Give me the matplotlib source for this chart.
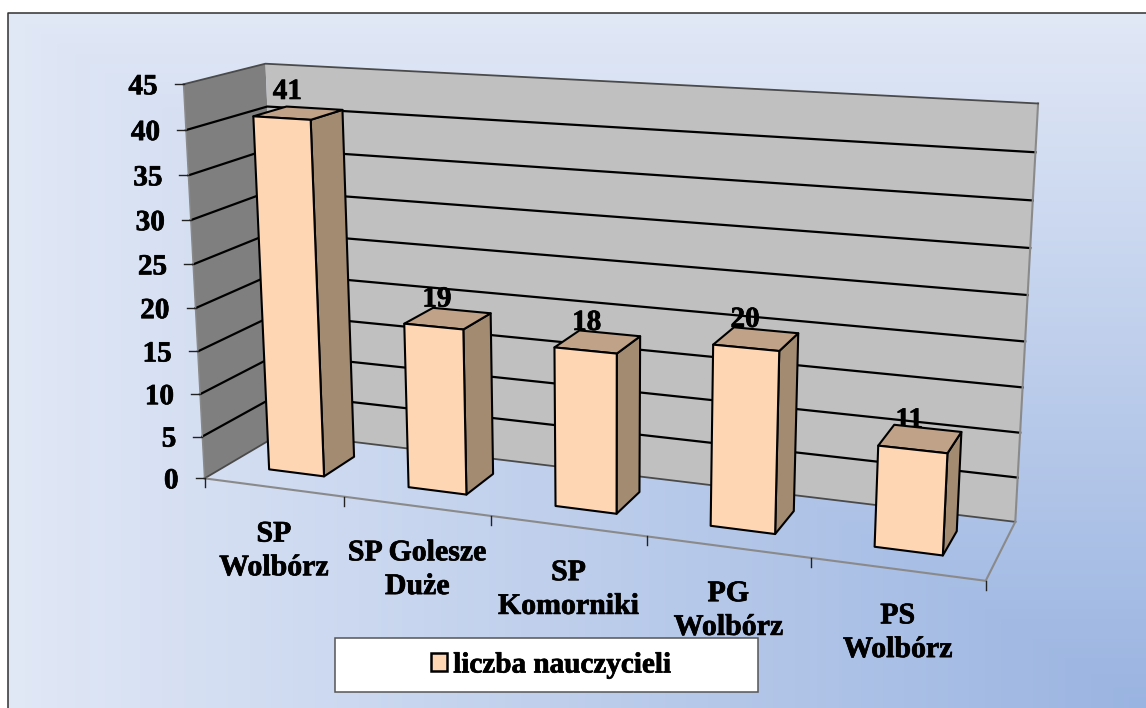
import numpy as np
import matplotlib
matplotlib.use("Agg")
import matplotlib.pyplot as plt
import matplotlib.patheffects as pe
from matplotlib.patches import Polygon, Rectangle, Patch

categories = ["SP\nWolbórz", "SP Golesze\nDuże", "SP\nKomorniki", "PG\nWolbórz", "PS\nWolbórz"]
teachers = [41, 19, 18, 20, 11]
y_ticks = [0, 5, 10, 15, 20, 25, 30, 35, 40, 45]
series_name = "liczba nauczycieli"
y_max = 45

# ---- layout: calibration of the 3D view (unit box -> pixels) ----
ANCHORS = [
    ((0, 0, 0), (205, 478)), ((1, 0, 0), (985.7, 581)),
    ((1, 0, 1), (1015, 521.7)), ((0, 0, 1), (281, 434)),
    ((0, 1, 0), (183, 85)), ((0, 1, 1), (266, 63)),
    ((1, 1, 1), (1038, 103.5)),
    ((.2, 0, 0), (344, 496)), ((.4, 0, 0), (491, 516)),
    ((.6, 0, 0), (647, 536.5)), ((.8, 0, 0), (812, 558)),
]
rows = []
for (a, b, c), (x, y) in ANCHORS:
    rows.append([a, b, c, 1, 0, 0, 0, 0, -x * a, -x * b, -x * c, -x])
    rows.append([0, 0, 0, 0, a, b, c, 1, -y * a, -y * b, -y * c, -y])
P = np.linalg.svd(np.array(rows, float))[2][-1].reshape(3, 4)


def proj(u, v, w):
    """u: category position 0..5, v: value 0..y_max, w: depth 0..1."""
    h = P @ np.array([u / len(categories), v / y_max, w, 1.0])
    return h[0] / h[2], h[1] / h[2]


W, H = 1146, 708
plt.rcParams["font.family"] = ["Liberation Serif", "DejaVu Serif"]
fig = plt.figure(figsize=(W / 100, H / 100), dpi=100, facecolor="white")
ax = fig.add_axes([0, 0, 1, 1])
ax.set_xlim(0, W)
ax.set_ylim(H, 0)
ax.axis("off")

heavy = [pe.withStroke(linewidth=0.5, foreground="black")]

# background gradient (rectangular path towards the bottom-right corner)
L, T = 8, 13
xx, yy = np.meshgrid(np.linspace(0, 1, 400), np.linspace(0, 1, 300))
t = np.maximum(1 - xx, 1 - yy)[..., None]
c0 = np.array([0x9a, 0xb4, 0xe1]) / 255
c1 = np.array([0xe1, 0xe8, 0xf6]) / 255
ax.imshow(c0 + (c1 - c0) * t, extent=(L, W, H, T), aspect="auto", zorder=0, interpolation="bilinear")
ax.set_xlim(0, W)
ax.set_ylim(H, 0)
ax.plot([L, L, W], [H, T, T], color="#303030", lw=1.1, zorder=1)

n = len(categories)
# walls
ax.add_patch(Polygon([proj(0, 0, 0), proj(0, y_max, 0), proj(0, y_max, 1), proj(0, 0, 1)],
                     fc="#7f7f7f", ec="none", zorder=2))
ax.add_patch(Polygon([proj(0, 0, 1), proj(0, y_max, 1), proj(n, y_max, 1), proj(n, 0, 1)],
                     fc="#c0c0c0", ec="none", zorder=2))

# gridlines
for v in y_ticks[1:-1]:
    pts = [proj(0, v, 0), proj(0, v, 1), proj(n, v, 1)]
    ax.plot(*zip(*pts), color="black", lw=1.6, zorder=3, solid_joinstyle="miter")

# wall edges
edge = "#8a8a8a"
ax.plot(*zip(proj(0, 0, 0), proj(0, y_max, 0)), color=edge, lw=1.1, zorder=3)
ax.plot(*zip(proj(n, 0, 1), proj(n, y_max, 1)), color=edge, lw=1.5, zorder=3)
ax.plot(*zip(proj(0, y_max, 0), proj(0, y_max, 1), proj(n, y_max, 1)), color="#4a4a4a", lw=1.3, zorder=3)
ax.plot(*zip(proj(0, 0, 0), proj(0, 0, 1), proj(n, 0, 1)), color="#4a4a4a", lw=1.3, zorder=3)
ax.plot(*zip(proj(0, 0, 0), proj(n, 0, 0), proj(n, 0, 1)), color=edge, lw=1.5, zorder=3)

# ticks + labels
for v in y_ticks:
    x, y = proj(0, v, 0)
    ax.plot([x - 9, x], [y, y], color="#222222", lw=1.0, zorder=3)
    ax.text(x - 26, y + 2.5, str(v), ha="right", va="center", fontsize=21, fontweight="bold",
            zorder=6, path_effects=heavy)

for i in range(n + 1):
    x, y = proj(i, 0, 0)
    ax.plot([x, x], [y, y + 9], color="#222222", lw=1.0, zorder=3)

for i, name in enumerate(categories):
    x, y = proj(i + .5, 0, 0)
    ax.text(x + 0.5, y + 63.5, name, ha="center", va="center", fontsize=21.5, fontweight="bold",
            linespacing=1.32, zorder=6, path_effects=heavy)

# bars
bar_w = 0.40
w0, w1 = 0.30, 0.72
for i, val in enumerate(teachers):
    u0, u1 = i + .5 - bar_w / 2, i + .5 + bar_w / 2
    faces = [
        ([proj(u1, 0, w0), proj(u1, 0, w1), proj(u1, val, w1), proj(u1, val, w0)], "#a38b72"),
        ([proj(u0, val, w0), proj(u1, val, w0), proj(u1, val, w1), proj(u0, val, w1)], "#bfa287"),
        ([proj(u0, 0, w0), proj(u1, 0, w0), proj(u1, val, w0), proj(u0, val, w0)], "#ffd6b3"),
    ]
    for pts, col in faces:
        ax.add_patch(Polygon(pts, fc=col, ec="black", lw=1.5, joinstyle="round", zorder=5))
    x, y = proj(i + .5, val, (w0 + w1) / 2)
    ax.text(x - 11, y - 17.5 - 0.1 * val, str(val), ha="center", va="center", fontsize=21,
            fontweight="bold", zorder=4, path_effects=heavy)

# legend
ax.add_patch(Rectangle((335, 638), 422.5, 54, fc="white", ec="#555555", lw=1.1, zorder=7))
leg = ax.legend(handles=[Patch(fc="#ffd6b3", ec="black", lw=1.8, label=series_name)],
                loc="center", bbox_to_anchor=(551, 665), bbox_transform=ax.transData,
                frameon=False, handlelength=0.55, handleheight=0.55, handletextpad=0.2,
                prop={"family": "Liberation Serif", "weight": "bold", "size": 21})
leg.set_zorder(8)
for txt in leg.get_texts():
    txt.set_path_effects(heavy)

fig.savefig("out.png", dpi=100)
